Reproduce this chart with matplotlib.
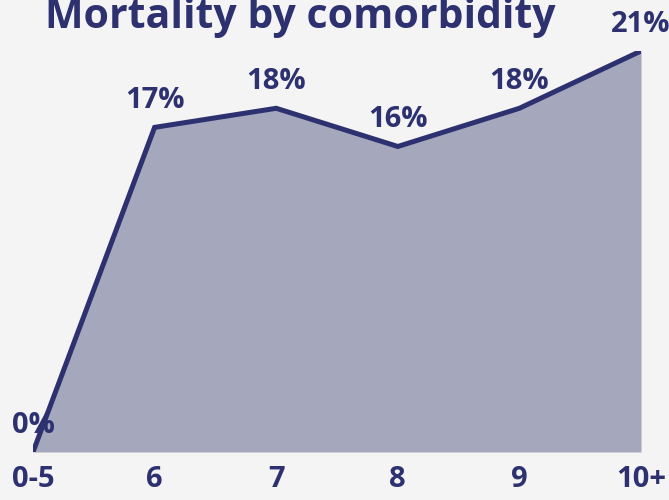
import matplotlib
matplotlib.use("Agg")
import matplotlib.pyplot as plt

categories = ["0-5", "6", "7", "8", "9", "10+"]
mortality = [0, 17, 18, 16, 18, 21]
labels = ["0%", "17%", "18%", "16%", "18%", "21%"]

BG = "#f4f4f4"
LINE = "#2d3170"
FILL = "#a5a7bd"

plt.rcParams['font.family'] = ['Open Sans', 'DejaVu Sans']

fig = plt.figure(figsize=(6.69, 5.0), dpi=100, facecolor=BG)
ax = fig.add_axes([33/669, 1-452/500, (641-33)/669, (452-51)/500])
ax.set_facecolor(BG)

x = list(range(len(categories)))
ax.fill_between(x, mortality, 0, color=FILL, linewidth=0)
ax.plot(x, mortality, color=LINE, linewidth=3.6, solid_capstyle='round', solid_joinstyle='miter')

for xi, v, lab in zip(x, mortality, labels):
    ax.annotate(lab, (xi, v), xytext=(0, 13.7), textcoords='offset points',
                ha='center', va='baseline', fontsize=21, fontweight='bold', color=LINE,
                annotation_clip=False)

ax.set_xlim(0, len(categories) - 1)
ax.set_ylim(0, 21)
ax.set_xticks(x)
ax.set_xticklabels(categories, fontsize=21, fontweight='bold', color=LINE)
ax.tick_params(axis='x', length=0, pad=9.5)
ax.set_yticks([])
for s in ax.spines.values():
    s.set_visible(False)

fig.text(45/669, 1-28/500, "Mortality by comorbidity", fontsize=29.5, fontweight='bold',
         color=LINE, ha='left', va='baseline')

fig.savefig("out.png", dpi=100, facecolor=BG)
